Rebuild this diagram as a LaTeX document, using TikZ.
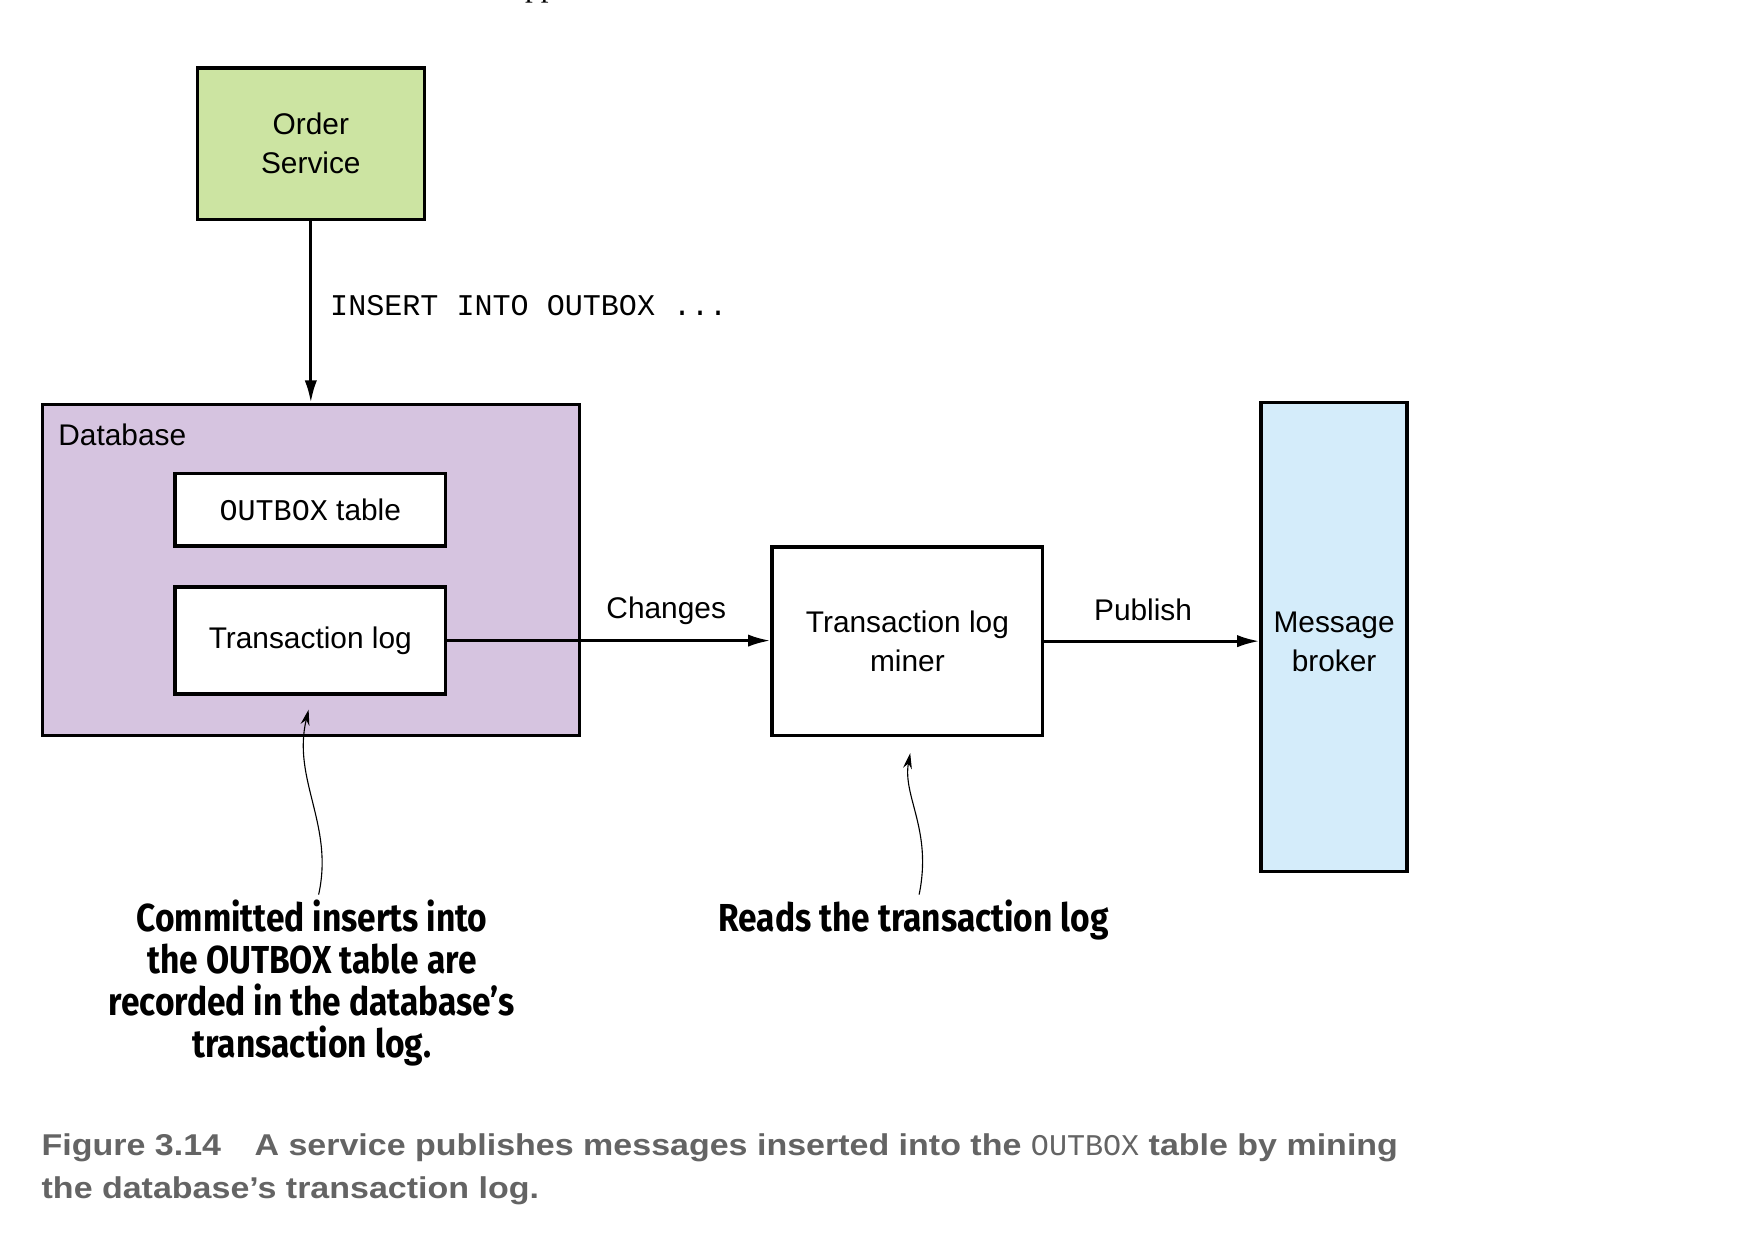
\documentclass[tikz,border=0pt]{standalone}
\usepackage{fontspec}
\setmainfont{Liberation Sans}
\setmonofont{Liberation Mono}
\newfontfamily\annfam{Fira Sans}[FakeStretch=0.86]
\newfontfamily\capfam{Liberation Sans Bold}[FakeStretch=1.13]
\newfontfamily\serfam{Liberation Serif}
\usetikzlibrary{arrows.meta}
\newcommand\boxfont{\fontsize{13.4pt}{17.5pt}\selectfont}
\newcommand\monofont{\fontsize{13.5pt}{16pt}\selectfont\ttfamily}
\definecolor{osgreen}{RGB}{204,228,162}
\definecolor{dblav}{RGB}{214,196,224}
\definecolor{mbblue}{RGB}{212,236,250}
\definecolor{capgray}{RGB}{100,100,100}
\tikzset{
  box/.style={draw=black, line width=1.5pt, inner sep=0pt, align=center, font=\boxfont},
  arr/.style={line width=1.3pt, -{Latex[length=10pt,width=5.5pt]}},
  notearr/.style={line width=0.5pt, -{Stealth[length=7pt,width=4pt]}},
  lbl/.style={inner sep=0pt, font=\boxfont},
  annot/.style={inner sep=0pt, align=center, font={\annfam\bfseries\fontsize{17.5pt}{18.85pt}\selectfont}},
  captxt/.style={inner sep=0pt, anchor=base west, text=capgray, font={\capfam\fontsize{13.5pt}{19.5pt}\selectfont}}
}
\begin{document}
\begin{tikzpicture}[x=0.5pt,y=-0.5pt]
\useasboundingbox (0,0) rectangle (1569,1122);
% cut-off text at the top edge
\node[inner sep=0pt, anchor=base west, font={\serfam\fontsize{14pt}{16pt}\selectfont}] (topfrag) at (471,-3.5) {pp};
% boxes
\node[box, fill=osgreen, minimum width=102pt, minimum height=68pt] (os) at (279,129) {Order\\Service};
\node[box, fill=dblav, minimum width=241pt, minimum height=148.5pt] (db) at (279,511.5) {};
\node[lbl, anchor=west] (dblabel) at (52,390) {Database};
\node[box, fill=white, minimum width=121.5pt, minimum height=32.5pt] (ob) at (278.5,457.5) {{\monofont OUTBOX} table};
\node[box, fill=white, minimum width=121.5pt, minimum height=48pt] (tl) at (278.5,575) {Transaction log};
\node[box, fill=white, minimum width=121.5pt, minimum height=84.5pt] (miner) at (814.5,575.5) {Transaction log\\miner};
\node[box, fill=mbblue, minimum width=65.5pt, minimum height=210.5pt] (mb) at (1197.5,571.5) {\rule{0pt}{13.5pt}Message\\broker};
% connectors
\draw[arr] (os.south) -- (db.north);
\node[inner sep=0pt, anchor=west, font=\monofont] (ins) at (296,274) {INSERT INTO OUTBOX ...};
\draw[arr] (tl.east) -- (tl.east -| miner.west);
\node[lbl] (chg) at (598,548) {Changes};
\draw[arr] (miner.east) -- (miner.east -| mb.west);
\node[lbl] (pub) at (1026,547) {Publish};
% annotations
\node[annot, anchor=north] (ann1) at (280,807) {Committed inserts into\\the OUTBOX table are\\recorded in the database’s\\transaction log.};
\node[annot, anchor=north] (ann2) at (820,807) {Reads the transaction log};
\coordinate (tip1) at (277,637);
\coordinate (tip2) at (817,676);
\draw[notearr] ([xshift=3pt,yshift=2pt]ann1.north) .. controls (300,740) and (262,700) .. (tip1);
\draw[notearr] ([xshift=2.5pt,yshift=2pt]ann2.north) .. controls (837,745) and (810,715) .. (tip2);
% caption
\node[captxt] (cap1) at (37,1037) {Figure 3.14\hspace{15pt}A service publishes messages inserted into the {\fontsize{13.5pt}{16pt}\selectfont\ttfamily OUTBOX} table by mining};
\node[captxt] (cap2) at (37,1076) {the database’s transaction log.};
\end{tikzpicture}
\end{document}
